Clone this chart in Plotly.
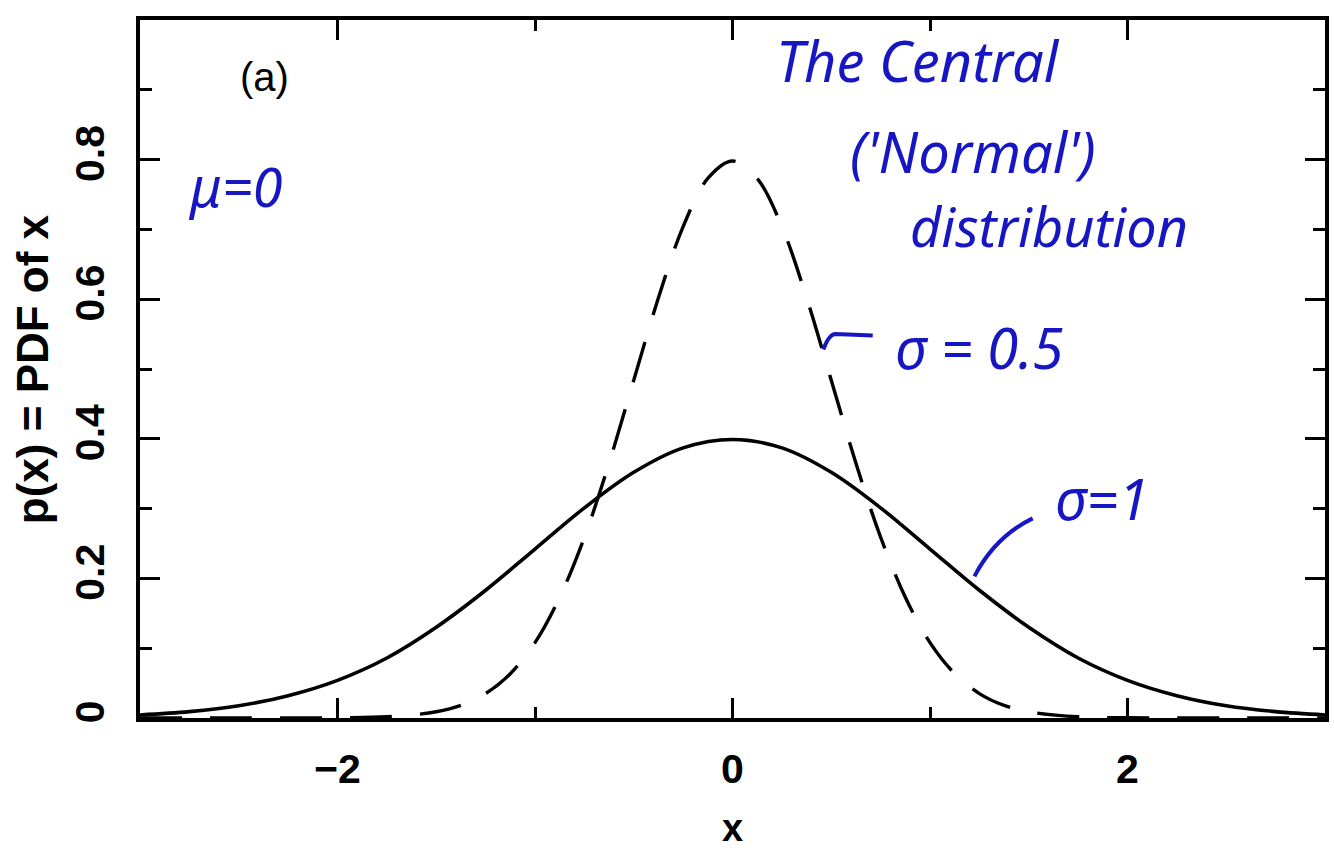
import plotly.graph_objects as go

# Sample positions along x
x_wide = [-3.0, -2.75, -2.5, -2.25, -2.0, -1.75, -1.5, -1.25, -1.0, -0.75, -0.5, -0.25,
          0.0, 0.25, 0.5, 0.75, 1.0, 1.25, 1.5, 1.75, 2.0, 2.25, 2.5, 2.75, 3.0]
pdf_sigma1 = [0.0044, 0.0091, 0.0175, 0.032, 0.054, 0.086, 0.130, 0.183, 0.242, 0.301, 0.352, 0.387,
              0.399, 0.387, 0.352, 0.301, 0.242, 0.183, 0.130, 0.086, 0.054, 0.032, 0.0175, 0.0091, 0.0044]

x_narrow = [-3.0, -2.5, -2.0, -1.75, -1.5, -1.375, -1.25, -1.125, -1.0, -0.875, -0.75, -0.625, -0.5,
            -0.375, -0.25, -0.125, 0.0, 0.125, 0.25, 0.375, 0.5, 0.625, 0.75, 0.875, 1.0, 1.125,
            1.25, 1.375, 1.5, 1.75, 2.0, 2.5, 3.0]
pdf_sigma05 = [0.0, 0.0, 0.0003, 0.0017, 0.0089, 0.018, 0.035, 0.0635, 0.108, 0.173, 0.259, 0.365, 0.484,
               0.602, 0.704, 0.773, 0.798, 0.773, 0.704, 0.602, 0.484, 0.365, 0.259, 0.173, 0.108, 0.0635,
               0.035, 0.018, 0.0089, 0.0017, 0.0003, 0.0, 0.0]

x_tickvals = [-2, 0, 2]
x_ticktext = ["\u22122", "0", "2"]
y_tickvals = [0, 0.2, 0.4, 0.6, 0.8]
y_ticktext = ["0", "0.2", "0.4", "0.6", "0.8"]

INK = "rgb(22,22,195)"
HAND = "Noto Sans"

fig = go.Figure()
fig.add_trace(go.Scatter(x=x_narrow, y=pdf_sigma05, mode="lines", line_shape="spline",
                         line=dict(color="black", width=3.4, dash="42px,28px"), showlegend=False))
fig.add_trace(go.Scatter(x=x_wide, y=pdf_sigma1, mode="lines", line_shape="spline",
                         line=dict(color="black", width=3.6), showlegend=False))

tick_font = dict(family="Liberation Sans", size=41, color="black", weight="bold")

fig.update_xaxes(range=[-3, 3], showgrid=False, zeroline=False, automargin=False,
                 showline=True, linecolor="black", linewidth=4, mirror="ticks",
                 ticks="inside", ticklen=20, tickwidth=3, tickcolor="black",
                 tickvals=x_tickvals, ticktext=x_ticktext, tickfont=tick_font,
                 ticklabelstandoff=12,
                 minor=dict(ticks="inside", ticklen=11, tickwidth=3, tickcolor="black", dtick=1, tick0=0))
fig.update_yaxes(range=[0, 1.0], showgrid=False, zeroline=False, automargin=False,
                 showline=True, linecolor="black", linewidth=4, mirror="ticks",
                 ticks="inside", ticklen=20, tickwidth=3, tickcolor="black",
                 tickvals=y_tickvals, ticktext=y_ticktext, tickfont=tick_font, tickangle=-90,
                 ticklabelstandoff=16,
                 minor=dict(ticks="inside", ticklen=12, tickwidth=3, tickcolor="black", dtick=0.1, tick0=0))

# axis titles
fig.add_annotation(xref="paper", yref="paper", x=0.5, y=-0.1905, xanchor="center", yanchor="bottom",
                   text="x", showarrow=False,
                   font=dict(family="Liberation Sans", size=38, color="black", weight="bold"))
fig.add_annotation(xref="paper", yref="paper", x=-0.091, y=0.5, xanchor="center", yanchor="middle",
                   textangle=-90, text="p(x) = PDF of x", showarrow=False,
                   font=dict(family="Liberation Sans", size=44, color="black", weight="bold"))

notes = [
    ("(a)", -2.37, 0.918, "black", "Liberation Sans", 40, "normal"),
    ("\u03bc=0", -2.52, 0.762, INK, HAND, 54, "italic"),
    ("The Central", 0.94, 0.942, INK, HAND, 56, "italic"),
    ("('Normal')", 1.22, 0.812, INK, HAND, 56, "italic"),
    ("distribution", 1.60, 0.705, INK, HAND, 54, "italic"),
    ("\u03c3 = 0.5", 1.25, 0.531, INK, HAND, 56, "italic"),
    ("\u03c3=1", 1.87, 0.315, INK, HAND, 56, "italic"),
]
for text, ax, ay, col, fam, sz, sty in notes:
    fig.add_annotation(x=ax, y=ay, xref="x", yref="y", text=text, showarrow=False,
                       font=dict(family=fam, size=sz, color=col, style=sty))

# hand-drawn leader lines to each curve
fig.add_shape(type="path", xref="x", yref="y",
              path="M 0.46 0.528 Q 0.49 0.55 0.52 0.55 L 0.71 0.548",
              line=dict(color=INK, width=4))
fig.add_shape(type="path", xref="x", yref="y",
              path="M 1.225 0.203 Q 1.33 0.26 1.52 0.286",
              line=dict(color=INK, width=4))

fig.update_layout(width=1334, height=852, margin=dict(l=140, r=9, t=20, b=134),
                  paper_bgcolor="white", plot_bgcolor="white")

fig.write_html("out.html")
